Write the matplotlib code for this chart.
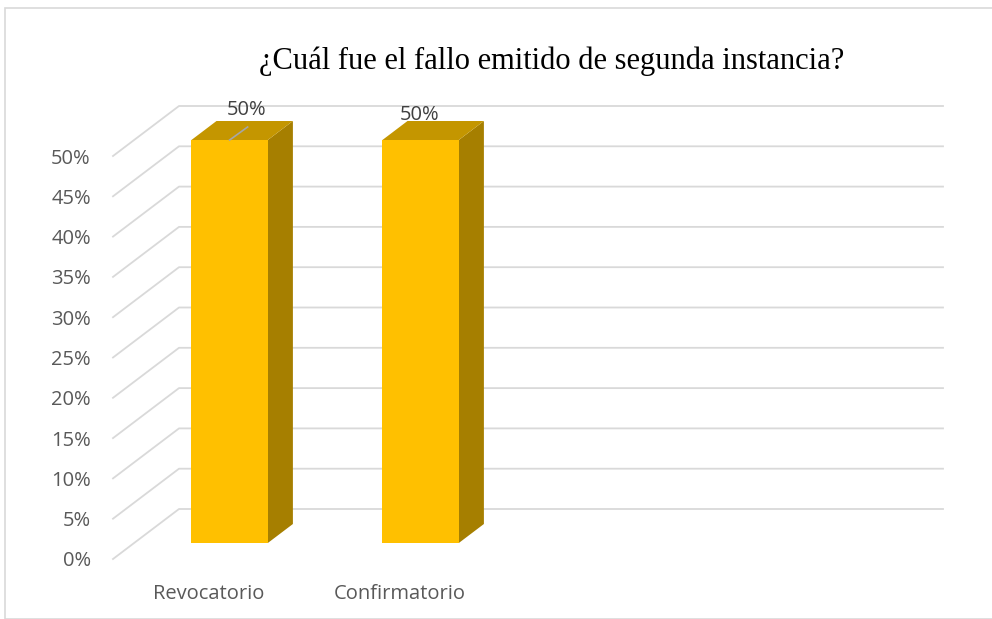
import matplotlib
matplotlib.use("Agg")
import matplotlib.pyplot as plt
from matplotlib.patches import Polygon, Rectangle
from matplotlib.transforms import IdentityTransform

# Dados do gráfico
categorias = ["Revocatorio", "Confirmatorio"]
valores = [50, 50]
ticks_y = [0, 5, 10, 15, 20, 25, 30, 35, 40, 45, 50]
rotulos_y = [f"{t}%" for t in ticks_y]
rotulos_barras = ["50%", "50%"]
titulo = "¿Cuál fue el fallo emitido de segunda instancia?"

W, H = 992, 619
fig = plt.figure(figsize=(W / 100, H / 100), dpi=100)
fig.patch.set_facecolor("white")

# borda do gráfico
fig.add_artist(Rectangle((4.5, 0), W, H - 8, transform=IdentityTransform(),
                         fill=False, edgecolor="#d9d9d9", linewidth=1.2))

# eixo "frontal" (profundidade 0)
ax = fig.add_axes([113 / W, (H - 559) / H, 764 / W, 403 / H])
ax.set_xlim(0, 4)
ax.set_ylim(0, 50)
for s in ax.spines.values():
    s.set_visible(False)
ax.patch.set_alpha(0)

DX, DY = 66, 50  # deslocamento da profundidade em pixels


def proj(x, v, d):
    px, py = ax.transData.transform((x, v))
    return (px + DX * d, py + DY * d)


fig.canvas.draw()

grade = "#d9d9d9"
for t in ticks_y:
    a = proj(0, t, 0)
    b = proj(0, t, 1)
    c = proj(4, t, 1)
    ax.add_line(plt.Line2D([a[0], b[0], c[0]], [a[1], b[1], c[1]],
                           transform=IdentityTransform(), color=grade,
                           linewidth=1.3, zorder=1, clip_on=False))

# barras 3D
d0, d1 = 0.32, 0.70
larg = 0.4
for i, v in enumerate(valores):
    x0 = i + 0.5 - larg / 2
    x1 = i + 0.5 + larg / 2
    frente = [proj(x0, 0, d0), proj(x1, 0, d0), proj(x1, v, d0), proj(x0, v, d0)]
    lado = [proj(x1, 0, d0), proj(x1, 0, d1), proj(x1, v, d1), proj(x1, v, d0)]
    topo = [proj(x0, v, d0), proj(x1, v, d0), proj(x1, v, d1), proj(x0, v, d1)]
    for pts, cor, z in [(lado, "#a67f00", 3), (topo, "#c49600", 3), (frente, "#ffc000", 4)]:
        ax.add_patch(Polygon(pts, closed=True, transform=IdentityTransform(),
                             facecolor=cor, edgecolor="none", zorder=z, clip_on=False))

# rótulos dos dados (o primeiro foi arrastado, com linha de chamada)
desloc = [(17, 30), (-1, 25)]
for i, (v, r) in enumerate(zip(valores, rotulos_barras)):
    bx, by = proj(i + 0.5, v, d0)
    tx, ty = bx + desloc[i][0], by + desloc[i][1]
    fig.text(tx / W, ty / H, r, ha="center", va="center", fontsize=14.5,
             family="Open Sans", color="#404040", zorder=6)
    if i == 0:
        ax.add_line(plt.Line2D([bx, bx + 18], [by, by + 13],
                               transform=IdentityTransform(), color="#a6a6a6",
                               linewidth=1.2, zorder=5, clip_on=False))

ax.set_yticks(ticks_y)
ax.set_yticklabels(rotulos_y, fontsize=14.5, family="Open Sans", color="#595959")
ax.set_xticks([i + 0.5 for i in range(len(categorias))])
ax.set_xticklabels(categorias, fontsize=14.5, family="Open Sans", color="#595959")
ax.tick_params(axis="y", length=0, pad=16)
ax.tick_params(axis="x", length=0, pad=18)

fig.text(552 / W, (H - 61) / H, titulo, ha="center", va="center",
         fontsize=22, family="Liberation Serif", color="black")

fig.savefig("out.png", dpi=100)
